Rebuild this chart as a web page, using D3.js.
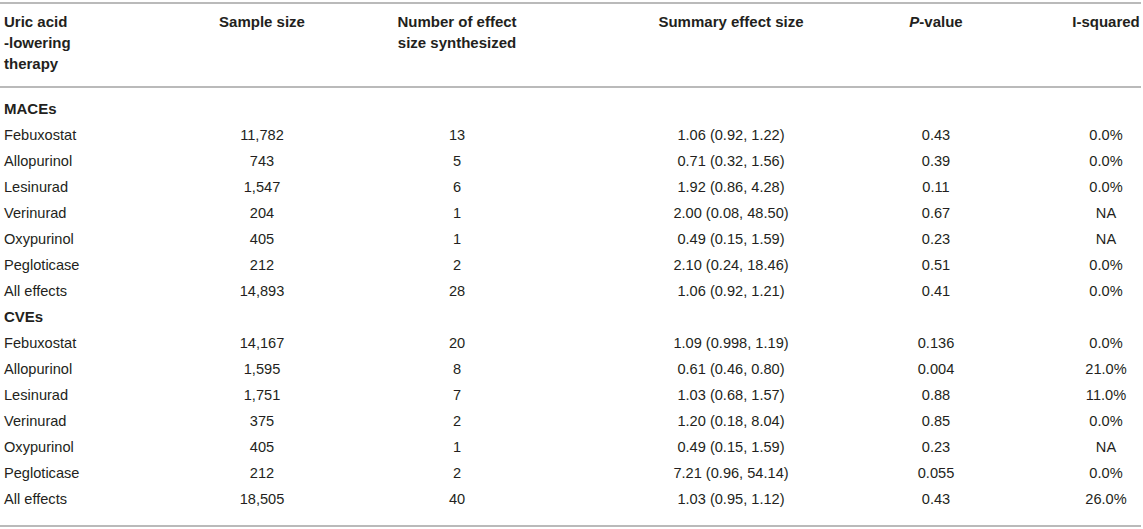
<!DOCTYPE html>
<html lang="en">
<head>
    <meta charset="UTF-8">
    <title>Uric acid-lowering therapy table</title>
    <script src="https://d3js.org/d3.v7.min.js"></script>
    <style>
        body {
            margin: 0;
            background: #fff;
        }
        svg {
            display: block;
        }
        .cell {
            font-family: "Liberation Sans", Arial, Helvetica, sans-serif;
            font-size: 14.6px;
            fill: #231f20;
        }
        .head {
            font-weight: bold;
            font-size: 15px;
        }
        .rule {
            stroke: #a3a3a3;
            stroke-width: 1.5;
        }
    </style>
</head>
<body>
    <svg width="1143" height="529"></svg>

    <script>
        // Table data
        const groups = ["MACEs", "CVEs"];
        const therapies = ["Febuxostat", "Allopurinol", "Lesinurad", "Verinurad", "Oxypurinol", "Pegloticase", "All effects"];

        const macesSample = ["11,782", "743", "1,547", "204", "405", "212", "14,893"];
        const macesNumber = ["13", "5", "6", "1", "1", "2", "28"];
        const macesSummary = ["1.06 (0.92, 1.22)", "0.71 (0.32, 1.56)", "1.92 (0.86, 4.28)", "2.00 (0.08, 48.50)",
            "0.49 (0.15, 1.59)", "2.10 (0.24, 18.46)", "1.06 (0.92, 1.21)"];
        const macesP = ["0.43", "0.39", "0.11", "0.67", "0.23", "0.51", "0.41"];
        const macesI2 = ["0.0%", "0.0%", "0.0%", "NA", "NA", "0.0%", "0.0%"];

        const cvesSample = ["14,167", "1,595", "1,751", "375", "405", "212", "18,505"];
        const cvesNumber = ["20", "8", "7", "2", "1", "2", "40"];
        const cvesSummary = ["1.09 (0.998, 1.19)", "0.61 (0.46, 0.80)", "1.03 (0.68, 1.57)", "1.20 (0.18, 8.04)",
            "0.49 (0.15, 1.59)", "7.21 (0.96, 54.14)", "1.03 (0.95, 1.12)"];
        const cvesP = ["0.136", "0.004", "0.88", "0.85", "0.23", "0.055", "0.43"];
        const cvesI2 = ["0.0%", "21.0%", "11.0%", "0.0%", "NA", "0.0%", "26.0%"];

        const columns = ["therapy", "sample", "number", "summary", "p", "i2"];

        // Build row list: a group label row, then one row per therapy
        const groupData = [
            [macesSample, macesNumber, macesSummary, macesP, macesI2],
            [cvesSample, cvesNumber, cvesSummary, cvesP, cvesI2]
        ];
        const rows = [];
        groups.forEach((g, gi) => {
            rows.push({ label: g, group: true, values: [] });
            therapies.forEach((t, ti) => {
                rows.push({ label: t, group: false, values: groupData[gi].map(col => col[ti]) });
            });
        });

        const width = 1143;
        const svg = d3.select("svg");

        // Column positions (x) and row positions (y)
        const xScale = d3.scaleOrdinal()
            .domain(columns)
            .range([4, 262, 457, 731, 936, 1106]);

        const yScale = d3.scaleLinear()
            .domain([0, rows.length - 1])
            .range([114, 504]);

        // Horizontal rules
        const rules = [3, 87, 526];
        svg.selectAll(".rule")
            .data(rules)
            .join("line")
            .attr("class", "rule")
            .attr("x1", 0)
            .attr("x2", width - 2)
            .attr("y1", d => d)
            .attr("y2", d => d);

        // Header
        const header = svg.append("g").attr("class", "cell head");
        const headBase = 27, headStep = 21;

        header.append("text")
            .attr("x", xScale("therapy"))
            .selectAll("tspan")
            .data(["Uric acid", "-lowering", "therapy"])
            .join("tspan")
            .attr("x", xScale("therapy"))
            .attr("y", (d, i) => headBase + i * headStep)
            .text(d => d);

        header.append("text")
            .attr("x", xScale("sample"))
            .attr("y", headBase)
            .attr("text-anchor", "middle")
            .text("Sample size");

        header.append("text")
            .attr("text-anchor", "middle")
            .selectAll("tspan")
            .data(["Number of effect", "size synthesized"])
            .join("tspan")
            .attr("x", xScale("number"))
            .attr("y", (d, i) => headBase + i * headStep)
            .text(d => d);

        header.append("text")
            .attr("x", xScale("summary"))
            .attr("y", headBase)
            .attr("text-anchor", "middle")
            .text("Summary effect size");

        const pHead = header.append("text")
            .attr("x", xScale("p"))
            .attr("y", headBase)
            .attr("text-anchor", "middle");
        pHead.append("tspan").style("font-style", "italic").text("P");
        pHead.append("tspan").text("-value");

        header.append("text")
            .attr("x", xScale("i2"))
            .attr("y", headBase)
            .attr("text-anchor", "middle")
            .text("I-squared");

        // Body rows
        const rowG = svg.selectAll(".row")
            .data(rows)
            .join("g")
            .attr("class", "row")
            .attr("transform", (d, i) => `translate(0, ${yScale(i)})`);

        rowG.append("text")
            .attr("class", d => d.group ? "cell head" : "cell")
            .attr("x", xScale("therapy"))
            .text(d => d.label);

        rowG.selectAll(".val")
            .data(d => d.values.map((v, i) => ({ col: columns[i + 1], v: v })))
            .join("text")
            .attr("class", "cell val")
            .attr("x", d => xScale(d.col))
            .attr("text-anchor", "middle")
            .text(d => d.v);
    </script>
</body>
</html>
